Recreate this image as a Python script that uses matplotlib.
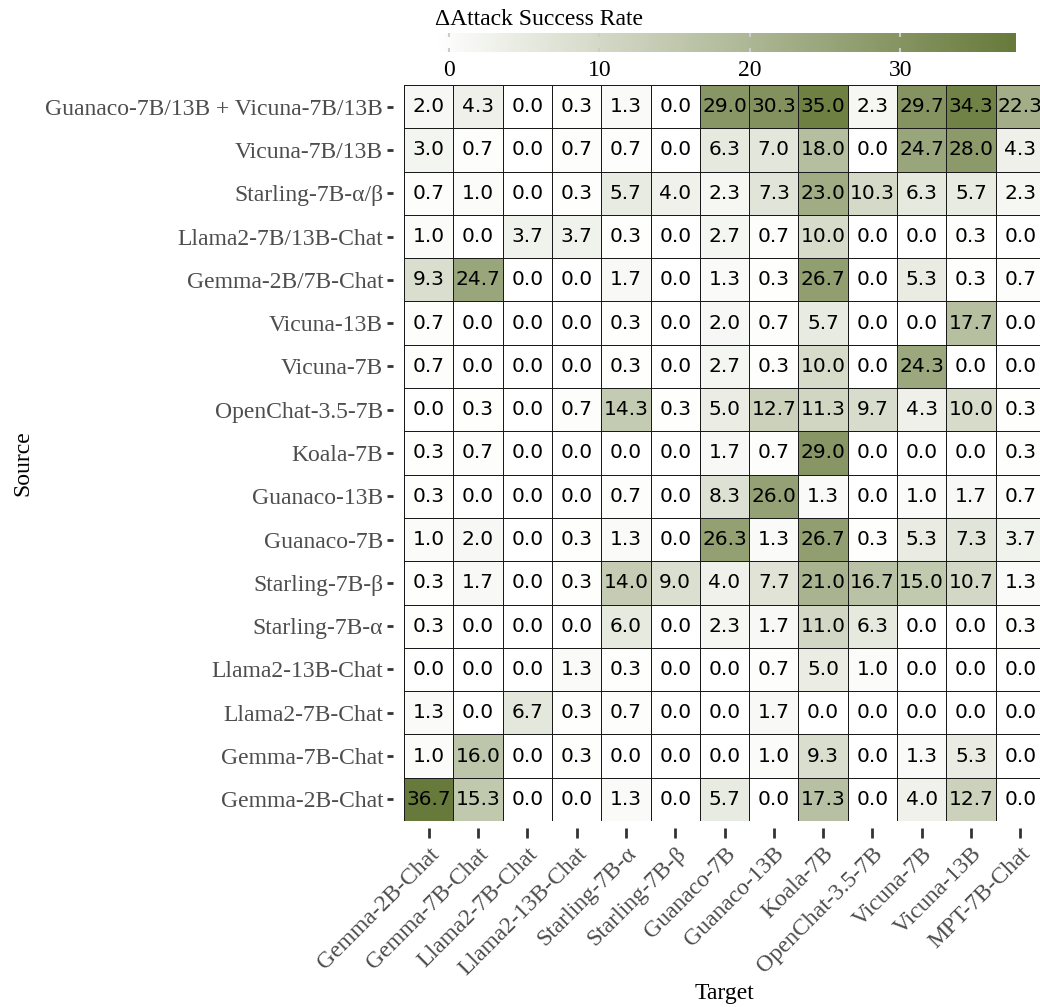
import numpy as np
import matplotlib
matplotlib.use("Agg")
import matplotlib.pyplot as plt
from matplotlib.colors import LinearSegmentedColormap

sources = ["Guanaco-7B/13B + Vicuna-7B/13B", "Vicuna-7B/13B", "Starling-7B-α/β",
           "Llama2-7B/13B-Chat", "Gemma-2B/7B-Chat", "Vicuna-13B", "Vicuna-7B",
           "OpenChat-3.5-7B", "Koala-7B", "Guanaco-13B", "Guanaco-7B", "Starling-7B-β",
           "Starling-7B-α", "Llama2-13B-Chat", "Llama2-7B-Chat", "Gemma-7B-Chat",
           "Gemma-2B-Chat"]
targets = ["Gemma-2B-Chat", "Gemma-7B-Chat", "Llama2-7B-Chat", "Llama2-13B-Chat",
           "Starling-7B-α", "Starling-7B-β", "Guanaco-7B", "Guanaco-13B", "Koala-7B",
           "OpenChat-3.5-7B", "Vicuna-7B", "Vicuna-13B", "MPT-7B-Chat"]

values = [
    [2.0, 4.3, 0.0, 0.3, 1.3, 0.0, 29.0, 30.3, 35.0, 2.3, 29.7, 34.3, 22.3],
    [3.0, 0.7, 0.0, 0.7, 0.7, 0.0, 6.3, 7.0, 18.0, 0.0, 24.7, 28.0, 4.3],
    [0.7, 1.0, 0.0, 0.3, 5.7, 4.0, 2.3, 7.3, 23.0, 10.3, 6.3, 5.7, 2.3],
    [1.0, 0.0, 3.7, 3.7, 0.3, 0.0, 2.7, 0.7, 10.0, 0.0, 0.0, 0.3, 0.0],
    [9.3, 24.7, 0.0, 0.0, 1.7, 0.0, 1.3, 0.3, 26.7, 0.0, 5.3, 0.3, 0.7],
    [0.7, 0.0, 0.0, 0.0, 0.3, 0.0, 2.0, 0.7, 5.7, 0.0, 0.0, 17.7, 0.0],
    [0.7, 0.0, 0.0, 0.0, 0.3, 0.0, 2.7, 0.3, 10.0, 0.0, 24.3, 0.0, 0.0],
    [0.0, 0.3, 0.0, 0.7, 14.3, 0.3, 5.0, 12.7, 11.3, 9.7, 4.3, 10.0, 0.3],
    [0.3, 0.7, 0.0, 0.0, 0.0, 0.0, 1.7, 0.7, 29.0, 0.0, 0.0, 0.0, 0.3],
    [0.3, 0.0, 0.0, 0.0, 0.7, 0.0, 8.3, 26.0, 1.3, 0.0, 1.0, 1.7, 0.7],
    [1.0, 2.0, 0.0, 0.3, 1.3, 0.0, 26.3, 1.3, 26.7, 0.3, 5.3, 7.3, 3.7],
    [0.3, 1.7, 0.0, 0.3, 14.0, 9.0, 4.0, 7.7, 21.0, 16.7, 15.0, 10.7, 1.3],
    [0.3, 0.0, 0.0, 0.0, 6.0, 0.0, 2.3, 1.7, 11.0, 6.3, 0.0, 0.0, 0.3],
    [0.0, 0.0, 0.0, 1.3, 0.3, 0.0, 0.0, 0.7, 5.0, 1.0, 0.0, 0.0, 0.0],
    [1.3, 0.0, 6.7, 0.3, 0.7, 0.0, 0.0, 1.7, 0.0, 0.0, 0.0, 0.0, 0.0],
    [1.0, 16.0, 0.0, 0.3, 0.0, 0.0, 0.0, 1.0, 9.3, 0.0, 1.3, 5.3, 0.0],
    [36.7, 15.3, 0.0, 0.0, 1.3, 0.0, 5.7, 0.0, 17.3, 0.0, 4.0, 12.7, 0.0],
]
cbar_ticks = [0, 10, 20, 30]

data = np.array(values)
vmin, vmax = 0.0, data.max()
cmap = LinearSegmentedColormap.from_list("olive", ["#ffffff", "#687a3b"])

serif = ["Liberation Serif", "DejaVu Serif"]
grey = "#4d4d4d"
fs = 17

fig = plt.figure(figsize=(10.4, 10.07), dpi=100)
ax = fig.add_axes([0.3885, 0.1847, 0.6163, 0.7309])

nr, nc = data.shape
ax.pcolormesh(np.arange(nc + 1), np.arange(nr + 1), data, cmap=cmap, vmin=vmin, vmax=vmax,
              edgecolors="#1a1a1a", linewidth=0.7)
ax.set_xlim(0, nc)
ax.set_ylim(nr, 0)
for i in range(nr):
    for j in range(nc):
        ax.text(j + 0.5, i + 0.5, f"{data[i, j]:.1f}", ha="center", va="center",
                fontsize=14.5, color="black", family="DejaVu Sans")

for s in ax.spines.values():
    s.set_visible(False)
ax.spines["bottom"].set_position(("outward", 5))
ax.spines["left"].set_position(("outward", 8))

ax.set_xticks(np.arange(nc) + 0.5)
ax.set_xticklabels(targets, rotation=45, ha="right", rotation_mode="anchor",
                   family=serif, fontsize=fs, color=grey)
ax.set_yticks(np.arange(nr) + 0.5)
ax.set_yticklabels(sources, family=serif, fontsize=fs, color=grey)
ax.tick_params(axis="x", length=7, width=2, color="#333333", pad=4)
ax.tick_params(axis="y", length=4, width=2, color="#333333", pad=3)

fig.text(0.697, 0.003, "Target", family=serif, fontsize=fs, ha="center", va="bottom")
fig.text(0.022, 0.54, "Source", family=serif, fontsize=fs, ha="center", va="center",
         rotation=90)

# colorbar
cax = fig.add_axes([0.418, 0.9484, 0.5577, 0.0189])
lo, hi = -0.93, 37.6
grad = np.linspace(vmin, vmax, 300)[None, :]
cax.imshow(grad, aspect="auto", cmap=cmap, vmin=vmin, vmax=vmax,
           extent=(lo, hi, 0, 1))
cax.set_xlim(lo, hi)
cax.set_ylim(0, 1)
cax.set_yticks([])
cax.set_xticks(cbar_ticks)
cax.set_xticklabels([str(t) for t in cbar_ticks], family=serif, fontsize=fs, color="black")
cax.tick_params(axis="x", length=0, pad=6)
for s in cax.spines.values():
    s.set_visible(False)
cax.vlines(cbar_ticks, 0, 0.22, color="#cccccc", lw=1.5)
cax.vlines(cbar_ticks, 0.78, 1, color="#cccccc", lw=1.5)
cax.set_title("ΔAttack Success Rate", family=serif, fontsize=fs, loc="left", pad=6)

fig.savefig("out.png", dpi=100)
